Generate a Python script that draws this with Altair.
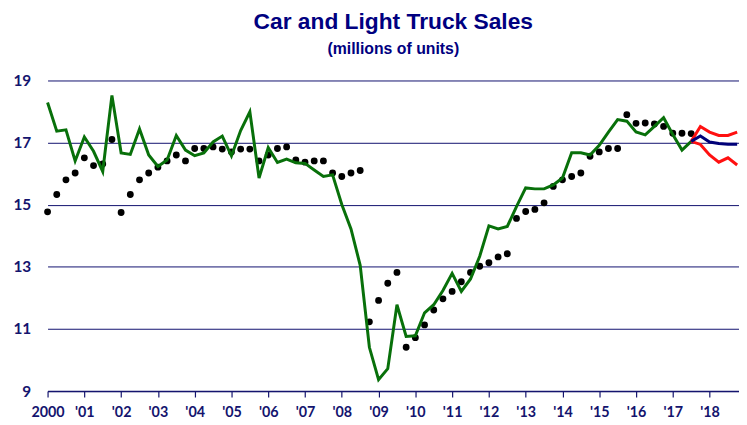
import altair as alt
import pandas as pd

# Quarterly positions 2000Q1 .. 2017Q3
quarters = [2000 + i * 0.25 for i in range(71)]

actual_sales = [
    18.29, 17.37, 17.41, 16.41,
    17.18, 16.72, 16.07, 18.52,
    16.67, 16.62, 17.44, 16.60,
    16.23, 16.44, 17.23, 16.76,
    16.58, 16.67, 17.02, 17.21,
    16.57, 17.39, 17.99, 15.86,
    16.84, 16.36, 16.47, 16.35,
    16.33, 16.12, 15.91, 15.96,
    15.01, 14.22, 13.05, 10.41,
    9.37, 9.72, 11.78, 10.76,
    10.78, 11.52, 11.78, 12.24,
    12.79, 12.21, 12.61, 13.34,
    14.32, 14.22, 14.30, 14.94,
    15.54, 15.51, 15.51, 15.64,
    15.86, 16.67, 16.67, 16.60,
    16.91, 17.34, 17.74, 17.69,
    17.34, 17.25, 17.52, 17.80,
    17.26, 16.76, 17.04,
]

dot_series = [
    14.77, 15.33, 15.80, 16.02,
    16.51, 16.26, 16.31, 17.10,
    14.75, 15.33, 15.80, 16.02,
    16.21, 16.41, 16.60, 16.41,
    16.81, 16.81, 16.86, 16.79,
    16.70, 16.79, 16.79, 16.41,
    16.60, 16.81, 16.86, 16.44,
    16.37, 16.41, 16.41, 16.02,
    15.91, 16.02, 16.10, 11.23,
    11.92, 12.47, 12.82, 10.41,
    10.72, 11.13, 11.61, 11.97,
    12.21, 12.52, 12.82, 13.02,
    13.13, 13.32, 13.42, 14.56,
    14.78, 14.85, 15.06, 15.59,
    15.80, 15.91, 16.02, 16.56,
    16.70, 16.81, 16.81, 17.90,
    17.62, 17.63, 17.60, 17.52,
    17.30, 17.30, 17.29,
]

forecast_quarters = [2017.5, 2017.75, 2018.0, 2018.25, 2018.5, 2018.75]
forecast_base = [17.04, 17.21, 17.02, 16.97, 16.95, 16.95]
forecast_high = [17.04, 17.52, 17.34, 17.23, 17.23, 17.34]
forecast_low = [17.04, 16.94, 16.60, 16.37, 16.51, 16.28]

year_ticks = list(range(2000, 2019))
y_ticks = [9, 11, 13, 15, 17, 19]

TEXT = "#14146e"
GRID = "#10106e"

df_actual = pd.DataFrame({"t": quarters, "v": actual_sales})
df_dots = pd.DataFrame({"t": quarters, "v": dot_series})
df_fc = pd.concat([
    pd.DataFrame({"t": forecast_quarters, "v": forecast_high, "s": "high"}),
    pd.DataFrame({"t": forecast_quarters, "v": forecast_low, "s": "low"}),
    pd.DataFrame({"t": forecast_quarters, "v": forecast_base, "s": "base"}),
])

x = alt.X("t:Q",
          scale=alt.Scale(domain=[2000, 2018.8], nice=False, zero=False),
          axis=alt.Axis(values=year_ticks, title=None, grid=False,
                        labelExpr="datum.value == 2000 ? '2000' : \"'\" + ((datum.value - 2000) < 10 ? '0' : '') + (datum.value - 2000)",
                        labelFont="Lato", labelFontWeight="bold", labelFontSize=14.5,
                        labelColor=TEXT, labelPadding=9, labelOverlap=False,
                        labelFlush=False,
                        domainColor=TEXT, domainWidth=1.5,
                        tickColor=TEXT, tickSize=6, tickWidth=1.2))
y = alt.Y("v:Q",
          scale=alt.Scale(domain=[9, 19], nice=False, zero=False),
          axis=alt.Axis(values=y_ticks, title=None, grid=True, gridColor=GRID,
                        gridWidth=1, domain=False, ticks=False,
                        labelFont="Lato", labelFontWeight="bold", labelFontSize=15.5,
                        labelColor=TEXT, labelPadding=17))

actual = alt.Chart(df_actual).mark_line(color="#08700a", strokeWidth=3).encode(x=x, y=y)
dots = alt.Chart(df_dots).mark_circle(color="black", opacity=1, size=48).encode(x=x, y=y)
fc = alt.Chart(df_fc).mark_line(strokeWidth=3).encode(
    x=x, y=y,
    color=alt.Color("s:N", scale=alt.Scale(domain=["high", "low", "base"],
                                            range=["#ff1010", "#ff1010", "#000078"]),
                    legend=None),
    detail="s:N",
)

chart = alt.layer(dots, actual, fc).properties(
    width=699, height=314,
    title=alt.TitleParams(
        text="Car and Light Truck Sales",
        subtitle="(millions of units)",
        font="Liberation Sans", fontSize=23, fontWeight="bold", color="#000080",
        subtitleFont="Liberation Sans", subtitleFontSize=16,
        subtitleFontWeight="bold", subtitleColor="#000080",
        anchor="middle", offset=17, subtitlePadding=7,
    ),
    autosize=alt.AutoSizeParams(type="none"),
    padding={"left": 40, "top": 71, "right": 0, "bottom": 30},
).configure_view(stroke=None)

chart.save("out.html", embed_options={"renderer": "svg", "actions": False})
